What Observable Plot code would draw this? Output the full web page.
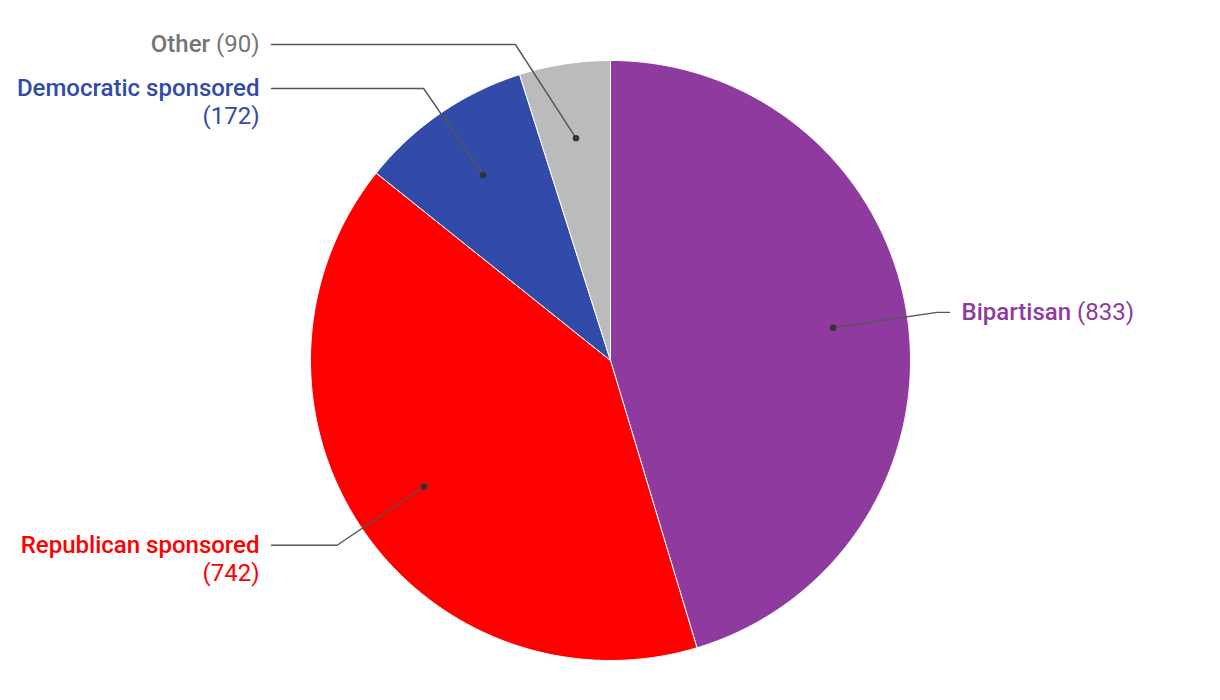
<!DOCTYPE html>
<html>
<head>
<meta charset="utf-8">
<script src="https://cdn.jsdelivr.net/npm/d3@7"></script>
<script src="https://cdn.jsdelivr.net/npm/@observablehq/plot@0.6"></script>
<style>
  html, body { margin: 0; padding: 0; background: #fff; }
  #chart svg { display: block; }
</style>
</head>
<body>
<div id="chart"></div>
<script>
// ---- data ----
const names = ["Bipartisan", "Republican sponsored", "Democratic sponsored", "Other"];
const values = [833, 742, 172, 90];
const sliceColors = ["#8e3a9e", "#ff0000", "#334ba8", "#bbbbbb"];
const textColors = ["#8e3a9e", "#ff0000", "#334ba8", "#757575"];

// ---- layout constants ----
const W = 1220, H = 700, CX = 610, CY = 360, R = 300;
const FONT = 24, NAME_WEIGHT = 500, LINE_H = 28, TOP_PAD = 44;
const dotFrac = 0.75, elbowFrac = 1.1, lineEndPx = 339, textPx = 351;

const total = d3.sum(values);
let acc = 0;
const slices = names.map((name, i) => {
  const a0 = acc / total * 2 * Math.PI;
  acc += values[i];
  const a1 = acc / total * 2 * Math.PI;
  return {name, value: values[i], a0, a1, mid: (a0 + a1) / 2, i};
});

// polygon points for each slice (unit circle, y up, clockwise from top)
const slicePts = [];
for (const s of slices) {
  slicePts.push({name: s.name, x: 0, y: 0});
  const n = Math.max(2, Math.ceil((s.a1 - s.a0) / (Math.PI / 360)));
  for (let k = 0; k <= n; k++) {
    const a = s.a0 + (s.a1 - s.a0) * k / n;
    slicePts.push({name: s.name, x: Math.sin(a), y: Math.cos(a)});
  }
  slicePts.push({name: s.name, x: 0, y: 0});
}

// text measurement
const ctx = document.createElement("canvas").getContext("2d");
function tw(t, weight) { ctx.font = `${weight} ${FONT}px Roboto`; return ctx.measureText(t).width; }

const yMax = (CY - TOP_PAD) / R;
const leaders = [], dots = [], nameLabels = [], valueLabels = [];
for (const s of slices) {
  const sx = Math.sin(s.mid), sy = Math.cos(s.mid);
  const side = sx < 0 ? -1 : 1;
  const dx0 = dotFrac * sx, dy0 = dotFrac * sy;
  let ly = elbowFrac * sy;
  ly = Math.min(ly, yMax);
  const ex = side * Math.sqrt(Math.max(0, elbowFrac * elbowFrac - ly * ly));
  const endX = side * lineEndPx / R;
  const tx = side * textPx / R;
  dots.push({x: dx0, y: dy0});
  leaders.push({name: s.name, x: dx0, y: dy0}, {name: s.name, x: ex, y: ly}, {name: s.name, x: endX, y: ly});
  const nameT = s.name, valT = `(${s.value})`;
  const nW = tw(nameT, NAME_WEIGHT), vW = tw(valT, 400), spW = tw(" ", 400);
  const avail = side < 0 ? (CX - textPx - 10) : (W - CX - textPx - 10);
  const wrap = nW + spW + vW > avail;
  const color = textColors[s.i];
  const anchor = side < 0 ? "end" : "start";
  if (wrap) {
    nameLabels.push({x: tx, y: ly, text: nameT, color, anchor});
    valueLabels.push({x: tx, y: ly - LINE_H / R, text: valT, color, anchor});
  } else if (side < 0) {
    valueLabels.push({x: tx, y: ly, text: valT, color, anchor});
    nameLabels.push({x: tx - (vW + spW) / R, y: ly, text: nameT, color, anchor});
  } else {
    nameLabels.push({x: tx, y: ly, text: nameT, color, anchor});
    valueLabels.push({x: tx + (nW + spW) / R, y: ly, text: valT, color, anchor});
  }
}

const textMarks = [];
for (const anchor of ["start", "end"]) {
  textMarks.push(Plot.text(nameLabels.filter(d => d.anchor === anchor), {
    x: "x", y: "y", text: "text", fill: d => d.color, textAnchor: anchor,
    fontSize: FONT, fontWeight: NAME_WEIGHT
  }));
  textMarks.push(Plot.text(valueLabels.filter(d => d.anchor === anchor), {
    x: "x", y: "y", text: "text", fill: d => d.color, textAnchor: anchor,
    fontSize: FONT, fontWeight: 400
  }));
}

const chart = Plot.plot({
  width: W, height: H,
  margin: 0,
  style: {fontFamily: "Roboto, sans-serif", background: "#fff"},
  x: {domain: [-1, 1], range: [CX - R, CX + R], axis: null},
  y: {domain: [-1, 1], range: [CY + R, CY - R], axis: null},
  color: {type: "identity"},
  marks: [
    Plot.line(slicePts, {
      x: "x", y: "y", z: "name",
      fill: d => sliceColors[names.indexOf(d.name)],
      stroke: "#ffffff", strokeWidth: 1, strokeLinejoin: "round", curve: "linear"
    }),
    Plot.line(leaders, {x: "x", y: "y", z: "name", stroke: "#555555", strokeWidth: 1.4, curve: "linear"}),
    Plot.dot(dots, {x: "x", y: "y", r: 3.2, fill: "#333333", stroke: "none"}),
    ...textMarks
  ]
});
document.getElementById("chart").appendChild(chart);
</script>
</body>
</html>
